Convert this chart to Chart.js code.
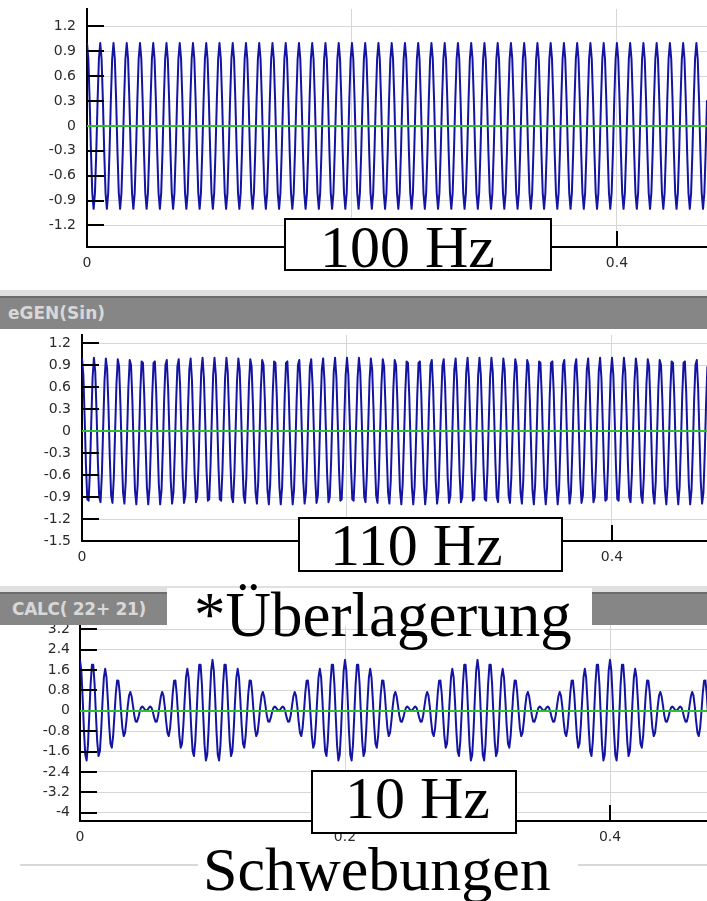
<!DOCTYPE html>
<html>
<head>
<meta charset="utf-8">
<script src="https://cdn.jsdelivr.net/npm/chart.js@4.4.1/dist/chart.umd.min.js"></script>
<style>
  html, body { margin: 0; padding: 0; background: #fff; }
  #page { position: relative; width: 707px; height: 901px; overflow: hidden; background: #fff; }
  canvas { position: absolute; left: 0; }
  .band { position: absolute; left: 0; width: 707px; }
  .bar { position: absolute; left: 0; width: 707px; background: #868686; color: #d8d8d8;
         font: bold 17px "DejaVu Sans", sans-serif; white-space: nowrap; overflow: hidden; }
  .bar span { position: absolute; }
  .box { position: absolute; background: #fff; border: 2px solid #000; box-sizing: border-box; }
  .blank { position: absolute; background: #fff; }
  .big { position: absolute; font-family: "Liberation Serif", "DejaVu Serif", serif; color: #000;
         white-space: nowrap; line-height: 1; }
</style>
</head>
<body>
<div id="page">
  <canvas id="c1" width="707" height="285" style="top:0px"></canvas>
  <canvas id="c2" width="707" height="250" style="top:329px"></canvas>
  <canvas id="c3" width="707" height="250" style="top:600px"></canvas>

  <div class="band" style="top:290px;height:6px;background:#e0e0e0"></div>
  <div class="band" style="top:296px;height:2px;background:#6c6c6c"></div>
  <div class="bar" style="top:298px;height:31px"><span style="left:8px;top:5px">eGEN(Sin)</span></div>

  <div class="band" style="top:586px;height:6px;background:#e0e0e0"></div>
  <div class="band" style="top:592px;height:2px;background:#6c6c6c"></div>
  <div class="bar" style="top:594px;height:31px"><span style="left:12px;top:5px;letter-spacing:-0.3px">CALC( 22+ 21)</span></div>

  <div class="band" style="top:864px;height:2px;background:#d8d8d8;left:20px;width:687px"></div>

  <div class="box" style="left:284px;top:218px;width:268px;height:53px"></div>
  <div class="big" style="left:320px;top:217px;font-size:60px">100 Hz</div>

  <div class="box" style="left:298px;top:517px;width:265px;height:55px"></div>
  <div class="big" style="left:330px;top:515px;font-size:60px">110 Hz</div>

  <div class="blank" style="left:167px;top:588px;width:425px;height:38px"></div>
  <div class="big" style="left:194px;top:584px;font-size:63px">*Überlagerung</div>

  <div class="box" style="left:311px;top:770px;width:206px;height:64px"></div>
  <div class="big" style="left:345px;top:768px;font-size:60px">10 Hz</div>

  <div class="blank" style="left:198px;top:846px;width:380px;height:55px"></div>
  <div class="big" style="left:203px;top:838px;font-size:62px">Schwebungen</div>
</div>

<script>
// sampled at 1 kHz; each block is one full period of the displayed signal
// (all traces start at their maximum)
const sampleRate = 1000;
const spanSeconds = 0.5;

// GEN(Sin) 100 Hz: 10 samples per period
const block100 = [1, 0.81, 0.31, -0.31, -0.81, -1, -0.81, -0.31, 0.31, 0.81];

// GEN(Sin) 110 Hz: 100 samples (11 periods)
const block110 = [
  1, 0.77, 0.19, -0.48, -0.93, -0.95, -0.54, 0.13, 0.73, 1.00,
  0.81, 0.25, -0.43, -0.90, -0.97, -0.59, 0.06, 0.69, 0.99, 0.84,
  0.31, -0.37, -0.88, -0.98, -0.64, 0, 0.64, 0.98, 0.88, 0.37,
  -0.31, -0.84, -0.99, -0.69, -0.06, 0.59, 0.97, 0.90, 0.43, -0.25,
  -0.81, -1.00, -0.73, -0.13, 0.54, 0.95, 0.93, 0.48, -0.19, -0.77,
  -1, -0.77, -0.19, 0.48, 0.93, 0.95, 0.54, -0.13, -0.73, -1.00,
  -0.81, -0.25, 0.43, 0.90, 0.97, 0.59, -0.06, -0.69, -0.99, -0.84,
  -0.31, 0.37, 0.88, 0.98, 0.64, 0, -0.64, -0.98, -0.88, -0.37,
  0.31, 0.84, 0.99, 0.69, 0.06, -0.59, -0.97, -0.90, -0.43, 0.25,
  0.81, 1.00, 0.73, 0.13, -0.54, -0.95, -0.93, -0.48, 0.19, 0.77
];

// CALC(22+21): one beat period, 100 samples
const blockSum = [
  2, 1.58, 0.50, -0.79, -1.74, -1.95, -1.35, -0.18, 1.04, 1.81,
  1.81, 1.06, -0.12, -1.21, -1.78, -1.59, -0.75, 0.38, 1.30, 1.65,
  1.31, 0.44, -0.57, -1.29, -1.45, -1.00, -0.17, 0.67, 1.19, 1.18,
  0.69, -0.04, -0.68, -0.99, -0.87, -0.41, 0.16, 0.60, 0.74, 0.56,
  0.19, -0.19, -0.42, -0.43, -0.27, -0.05, 0.12, 0.17, 0.12, 0.04,
  0, 0.04, 0.12, 0.17, 0.12, -0.05, -0.27, -0.43, -0.42, -0.19,
  0.19, 0.56, 0.74, 0.60, 0.16, -0.41, -0.87, -0.99, -0.68, -0.04,
  0.69, 1.18, 1.19, 0.67, -0.17, -1.00, -1.45, -1.29, -0.57, 0.44,
  1.31, 1.65, 1.30, 0.38, -0.75, -1.59, -1.78, -1.21, -0.12, 1.06,
  1.81, 1.81, 1.04, -0.18, -1.35, -1.95, -1.74, -0.79, 0.50, 1.58
];

const ticks100 = [-1.2, -0.9, -0.6, -0.3, 0, 0.3, 0.6, 0.9, 1.2];
const ticks110 = [-1.5, -1.2, -0.9, -0.6, -0.3, 0, 0.3, 0.6, 0.9, 1.2];
const ticksSum = [-4, -3.2, -2.4, -1.6, -0.8, 0, 0.8, 1.6, 2.4, 3.2];
const timeTicks = [0, 0.2, 0.4];

const sampleCount = Math.round(spanSeconds * sampleRate);
const times = Array.from({ length: sampleCount }, (_, i) => i / sampleRate);

function repeatBlock(block) {
  return times.map((_, i) => block[i % block.length]);
}

const LABEL_FONT = { family: 'DejaVu Sans', size: 14 };
const LABEL_COLOR = '#2a2a2a';

// canvas top, plot top/bottom/left in page pixels
const panels = [
  { id: 'c1', top: 0,   h: 285, plotTop: 9,   plotBottom: 247, left: 87, yMin: -1.46, yMax: 1.41,
    xMax: 0.468, values: repeatBlock(block100), yTicks: ticks100, labelPad: 11 },
  { id: 'c2', top: 329, h: 250, plotTop: 335, plotBottom: 541, left: 82, yMin: -1.5, yMax: 1.31,
    xMax: 0.4717, values: repeatBlock(block110), yTicks: ticks110, labelPad: 11 },
  { id: 'c3', top: 600, h: 250, plotTop: 625, plotBottom: 821, left: 80, yMin: -4.33, yMax: 3.37,
    xMax: 0.4732, values: repeatBlock(blockSum), yTicks: ticksSum, labelPad: 10 }
];

const frameMarks = {
  id: 'frameMarks',
  afterDatasetsDraw(chart) {
    const { ctx, chartArea: a, scales: { x, y } } = chart;
    const seg = (x1, y1, x2, y2) => { ctx.beginPath(); ctx.moveTo(x1, y1); ctx.lineTo(x2, y2); ctx.stroke(); };
    ctx.save();
    ctx.strokeStyle = '#000';
    ctx.lineWidth = 2;
    y.ticks.forEach(t => {
      const py = Math.round(y.getPixelForValue(t.value));
      seg(a.left, py, a.left + 17, py);
    });
    x.ticks.forEach(t => {
      if (t.value === 0) return;
      const px = Math.round(x.getPixelForValue(t.value));
      seg(px, a.bottom, px, a.bottom - 16);
    });
    ctx.strokeStyle = '#2ec02e';
    const y0 = Math.round(y.getPixelForValue(0));
    seg(a.left, y0, a.right, y0);
    ctx.restore();
  }
};

panels.forEach(p => {
  new Chart(document.getElementById(p.id), {
    type: 'line',
    data: {
      labels: times,
      datasets: [{
        data: p.values,
        borderColor: '#1414a2',
        borderWidth: 2,
        borderJoinStyle: 'round',
        pointRadius: 0,
        tension: 0,
        fill: false
      }]
    },
    options: {
      responsive: false,
      animation: false,
      devicePixelRatio: 1,
      events: [],
      layout: { padding: { top: p.plotTop - p.top, left: 0, right: 0, bottom: 0 } },
      plugins: { legend: { display: false }, tooltip: { enabled: false } },
      scales: {
        x: {
          type: 'linear',
          min: 0,
          max: p.xMax,
          afterBuildTicks: s => { s.ticks = timeTicks.map(v => ({ value: v })); },
          afterFit: s => { s.height = p.top + p.h - p.plotBottom; s.paddingLeft = 0; s.paddingRight = 0; },
          ticks: { autoSkip: false, maxRotation: 0, padding: 8, font: LABEL_FONT, color: LABEL_COLOR,
                   callback: v => String(v) },
          grid: { color: '#d6d6d6', drawTicks: false },
          border: { color: '#000', width: 2 }
        },
        y: {
          type: 'linear',
          min: p.yMin,
          max: p.yMax,
          afterBuildTicks: s => { s.ticks = p.yTicks.map(v => ({ value: v })); },
          afterFit: s => { s.width = p.left; s.paddingTop = 0; s.paddingBottom = 0; },
          ticks: { autoSkip: false, padding: p.labelPad, font: LABEL_FONT, color: LABEL_COLOR,
                   callback: v => String(v) },
          grid: { color: '#d6d6d6', drawTicks: false },
          border: { color: '#000', width: 2 }
        }
      }
    },
    plugins: [frameMarks]
  });
});
</script>
</body>
</html>
